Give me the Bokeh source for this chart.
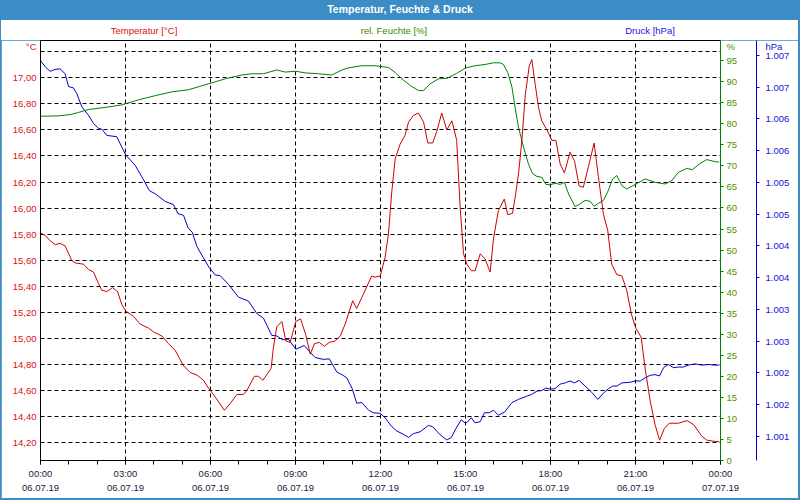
from bokeh.plotting import figure
from bokeh.layouts import column
from bokeh.models import (Range1d, LinearAxis, FixedTicker, CustomJSTickFormatter, Grid, Div)
from bokeh.embed import file_html
from bokeh.resources import INLINE

# ---------------- data ----------------
TEMP_H = [0.00, 0.17, 0.34, 0.52, 0.69, 0.87, 1.10, 1.22, 1.52, 1.69, 1.87, 2.05, 2.16, 2.34,
          2.54, 2.72, 2.87, 3.01, 3.28, 3.52, 3.81, 3.99, 4.28, 4.52, 4.75, 5.05, 5.28, 5.52,
          5.75, 5.93, 6.17, 6.49, 6.69, 6.93, 7.16, 7.28, 7.55, 7.69, 7.85, 8.14, 8.22, 8.34,
          8.52, 8.66, 8.81, 9.01, 9.18, 9.36, 9.52, 9.67, 9.84, 10.02, 10.19, 10.40, 10.58,
          10.75, 11.02, 11.16, 11.46, 11.69, 11.81, 11.99, 12.16, 12.28, 12.40, 12.52, 12.69,
          12.87, 12.99, 13.16, 13.34, 13.52, 13.67, 13.84, 13.99, 14.16, 14.34, 14.52, 14.69,
          14.81, 14.93, 15.05, 15.20, 15.34, 15.52, 15.69, 15.87, 15.99, 16.16, 16.37, 16.49,
          16.66, 16.75, 16.87, 16.99, 17.11, 17.25, 17.34, 17.46, 17.58, 17.69, 17.85, 17.96,
          18.05, 18.19, 18.34, 18.49, 18.69, 18.85, 19.01, 19.16, 19.34, 19.54, 19.69, 19.87,
          20.02, 20.16, 20.34, 20.52, 20.69, 20.85, 21.01, 21.20, 21.34, 21.52, 21.69, 21.85,
          22.02, 22.19, 22.52, 22.81, 23.05, 23.34, 23.52, 23.81, 23.95]
TEMP_V = [15.81, 15.79, 15.75, 15.72, 15.73, 15.71, 15.60, 15.58, 15.57, 15.53, 15.51, 15.42,
          15.37, 15.36, 15.39, 15.36, 15.26, 15.21, 15.17, 15.11, 15.08, 15.05, 15.02, 14.96,
          14.91, 14.79, 14.74, 14.72, 14.68, 14.62, 14.55, 14.45, 14.50, 14.57, 14.57, 14.60,
          14.71, 14.71, 14.68, 14.77, 14.93, 15.09, 15.13, 14.98, 14.97, 15.13, 15.15, 15.03,
          14.88, 14.96, 14.97, 14.94, 14.97, 14.98, 15.02, 15.11, 15.29, 15.23, 15.37, 15.48,
          15.47, 15.48, 15.62, 15.80, 16.13, 16.38, 16.49, 16.56, 16.66, 16.71, 16.73, 16.66,
          16.50, 16.50, 16.59, 16.73, 16.60, 16.67, 16.52, 16.01, 15.65, 15.57, 15.52, 15.52,
          15.65, 15.61, 15.51, 15.77, 15.98, 16.07, 15.95, 15.96, 16.08, 16.26, 16.52, 16.87,
          17.09, 17.14, 16.95, 16.77, 16.67, 16.61, 16.56, 16.52, 16.52, 16.34, 16.27, 16.43,
          16.36, 16.17, 16.16, 16.32, 16.50, 16.24, 15.95, 15.83, 15.57, 15.49, 15.48, 15.37,
          15.19, 15.08, 15.01, 14.77, 14.52, 14.34, 14.22, 14.31, 14.35, 14.35, 14.37, 14.34,
          14.25, 14.22, 14.21, 14.21]

HUM_H = [0.00, 0.64, 1.05, 1.34, 1.69, 2.28, 2.87, 3.46, 4.05, 4.64, 5.22, 5.93, 6.52, 7.11,
         7.46, 7.87, 8.34, 8.64, 9.01, 9.34, 9.81, 10.28, 10.64, 10.87, 11.34, 11.81, 12.28,
         12.52, 12.75, 13.05, 13.34, 13.52, 13.75, 14.05, 14.34, 14.69, 15.01, 15.34, 15.69,
         15.99, 16.22, 16.34, 16.49, 16.64, 16.75, 16.87, 17.05, 17.22, 17.36, 17.52, 17.69,
         17.84, 17.99, 18.16, 18.34, 18.49, 18.64, 18.87, 19.05, 19.22, 19.40, 19.54, 19.69,
         19.87, 20.05, 20.19, 20.34, 20.52, 20.69, 20.99, 21.34, 21.69, 22.05, 22.28, 22.52,
         22.81, 23.01, 23.28, 23.52, 23.81, 23.95]
HUM_V = [81.8, 81.9, 82.2, 82.7, 83.4, 83.9, 84.5, 85.7, 86.7, 87.6, 88.1, 89.5, 90.7, 91.6,
         91.9, 91.9, 92.8, 92.3, 92.5, 92.1, 91.9, 91.6, 92.8, 93.3, 93.8, 93.8, 93.4, 92.2,
         90.7, 89.1, 87.9, 87.9, 89.5, 90.7, 90.8, 92.0, 93.3, 93.8, 94.1, 94.5, 94.5, 94.1,
         92.2, 88.7, 83.9, 79.2, 74.4, 70.5, 68.2, 67.5, 67.3, 65.6, 65.5, 65.9, 65.6, 66.1,
         63.3, 60.3, 61.0, 61.8, 61.6, 60.4, 61.1, 61.8, 64.3, 66.9, 67.7, 65.3, 64.5, 65.6,
         66.9, 66.1, 65.7, 66.5, 68.5, 69.4, 69.1, 70.6, 71.5, 71.0, 70.9]

PRESS_H = [0.00, 0.17, 0.34, 0.52, 0.69, 0.87, 0.99, 1.16, 1.28, 1.46, 1.69, 1.87, 2.05, 2.16,
           2.34, 2.69, 3.01, 3.34, 3.64, 3.84, 4.05, 4.40, 4.69, 4.85, 5.05, 5.20, 5.36, 5.52,
           5.75, 5.95, 6.17, 6.34, 6.64, 6.99, 7.34, 7.64, 7.87, 8.16, 8.34, 8.54, 8.75, 9.01,
           9.31, 9.52, 9.69, 9.99, 10.19, 10.46, 10.64, 10.81, 11.01, 11.16, 11.34, 11.58,
           11.75, 11.99, 12.16, 12.40, 12.58, 12.81, 12.99, 13.16, 13.40, 13.69, 13.84, 14.11,
           14.34, 14.50, 14.66, 14.85, 15.01, 15.20, 15.34, 15.52, 15.67, 15.84, 15.99, 16.16,
           16.38, 16.64, 16.87, 17.16, 17.34, 17.52, 17.69, 17.84, 17.99, 18.16, 18.34, 18.52,
           18.69, 18.85, 19.01, 19.22, 19.46, 19.67, 19.87, 20.05, 20.19, 20.34, 20.52, 20.81,
           20.99, 21.17, 21.34, 21.52, 21.69, 21.85, 21.99, 22.16, 22.34, 22.52, 22.69, 22.87,
           23.11, 23.34, 23.58, 23.81, 23.95]
PRESS_V = [1.00692, 1.00682, 1.00675, 1.00678, 1.00679, 1.00671, 1.00651, 1.00649, 1.00640,
           1.00619, 1.00606, 1.00593, 1.00585, 1.00584, 1.00574, 1.00572, 1.00543, 1.00527,
           1.00504, 1.00487, 1.00482, 1.00470, 1.00465, 1.00451, 1.00448, 1.00429, 1.00421,
           1.00399, 1.00381, 1.00366, 1.00354, 1.00353, 1.00339, 1.00319, 1.00313, 1.00293,
           1.00286, 1.00259, 1.00258, 1.00252, 1.00253, 1.00237, 1.00243, 1.00232, 1.00224,
           1.00221, 1.00222, 1.00201, 1.00197, 1.00192, 1.00174, 1.00152, 1.00153, 1.00141,
           1.00137, 1.00136, 1.00129, 1.00115, 1.00108, 1.00103, 1.00098, 1.00104, 1.00107,
           1.00117, 1.00115, 1.00102, 1.00094, 1.00098, 1.00112, 1.00126, 1.00120, 1.00129,
           1.00121, 1.00123, 1.00137, 1.00137, 1.00141, 1.00133, 1.00138, 1.00153, 1.00158,
           1.00163, 1.00166, 1.00171, 1.00172, 1.00176, 1.00174, 1.00175, 1.00182, 1.00184,
           1.00187, 1.00184, 1.00188, 1.00179, 1.00169, 1.00158, 1.00168, 1.00175, 1.00179,
           1.00179, 1.00184, 1.00185, 1.00187, 1.00187, 1.00192, 1.00196, 1.00197, 1.00195,
           1.00208, 1.00213, 1.00208, 1.00209, 1.00209, 1.00212, 1.00214, 1.00212, 1.00213,
           1.00212, 1.00212]

X_TICKS = [0, 3, 6, 9, 12, 15, 18, 21, 24]
X_TIMES = ["00:00", "03:00", "06:00", "09:00", "12:00", "15:00", "18:00", "21:00", "00:00"]
X_DATES = ["06.07.19"] * 8 + ["07.07.19"]
X_MINOR = list(range(0, 25))

TEMP_TICKS = [14.2, 14.4, 14.6, 14.8, 15.0, 15.2, 15.4, 15.6, 15.8, 16.0, 16.2, 16.4, 16.6, 16.8, 17.0]
TEMP_LABELS = ["14,20", "14,40", "14,60", "14,80", "15,00", "15,20", "15,40", "15,60", "15,80",
               "16,00", "16,20", "16,40", "16,60", "16,80", "17,00"]
TEMP_GRID = TEMP_TICKS + [17.2]

HUM_TICKS = [0, 5, 10, 15, 20, 25, 30, 35, 40, 45, 50, 55, 60, 65, 70, 75, 80, 85, 90, 95]
HUM_LABELS = [str(v) for v in HUM_TICKS]

PRESS_TICKS = [1.0010, 1.0015, 1.0020, 1.0025, 1.0030, 1.0035, 1.0040, 1.0045, 1.0050,
               1.0055, 1.0060, 1.0065, 1.0070]
PRESS_LABELS = ["1.001", "1.002", "1.002", "1.003", "1.003", "1.004", "1.004", "1.005",
                "1.005", "1.006", "1.006", "1.007", "1.007"]

TITLE = "Temperatur, Feuchte &amp; Druck"
SERIES_NAMES = ["Temperatur [°C]", "rel. Feuchte [%]", "Druck [hPa]"]
UNITS = ["°C", "%", "hPa"]

# ---------------- layout / styles ----------------
W, H = 800, 500
HEAD = 40                 # title bar + header row (px)
FIG_W, FIG_H = 797, 458   # figure inside the 1/2 px blue window border
FL, FW, FH = 39, 680, 420
X0, X1 = 0.0, 24.0
T0, T1 = 14.064, 17.286
HU0, HU1 = 0.0, 99.8
P0, P1 = 1.000617, 1.007236
UNIT_DY = 5.3             # unit labels sit this many px below the frame top
GAP = 16                  # extra room between the humidity and pressure axes

FONT = "Liberation Sans"
FS = "9.5px"
RED_LINE, RED_TXT = "#cc0000", "#dd1010"
GREEN_LINE, GREEN_TXT = "#008000", "#4a9400"
BLUE_LINE, BLUE_TXT = "#0000cc", "#1414d8"
BAR = "#3c8dc5"
XTXT = "#1c1c3c"


def unit_val(lo, hi):
    return hi - UNIT_DY / FH * (hi - lo)


LOOKUP = """
let best = 0; let bd = Infinity;
for (let i = 0; i < tv.length; i++) {
  const d = Math.abs(tv[i] - tick);
  if (d < bd) { bd = d; best = i; }
}
"""


def fmt(tick_values, labels):
    return CustomJSTickFormatter(args=dict(tv=tick_values, labs=labels),
                                 code=LOOKUP + "return labs[best];")


p = figure(width=FIG_W, height=FIG_H, output_backend="svg", toolbar_location=None,
           x_range=Range1d(X0, X1), y_range=Range1d(T0, T1),
           x_axis_location=None, y_axis_location=None,
           min_border_left=FL, min_border_right=FIG_W - FL - FW,
           min_border_top=0, min_border_bottom=FIG_H - FH, margin=(0, 2, 2, 1))
p.center = []
p.outline_line_color = None
p.background_fill_color = "white"
p.border_fill_color = "white"
p.extra_y_ranges = {"hum": Range1d(HU0, HU1), "press": Range1d(P0, P1)}

# grids
p.add_layout(Grid(dimension=0, ticker=FixedTicker(ticks=X_TICKS[1:-1]),
                  grid_line_color="black", grid_line_dash="4 3", grid_line_width=1))
p.add_layout(Grid(dimension=1, ticker=FixedTicker(ticks=TEMP_GRID),
                  grid_line_color="black", grid_line_dash="4 3", grid_line_width=1))

# bottom axis
xfmt = CustomJSTickFormatter(args=dict(tv=X_TICKS, times=X_TIMES, dates=X_DATES),
                             code=LOOKUP + "return times[best] + '\\n' + dates[best];")
xaxis = LinearAxis(ticker=FixedTicker(ticks=X_TICKS, minor_ticks=X_MINOR), formatter=xfmt,
                   axis_line_color="black", major_tick_line_color="black",
                   minor_tick_line_color="black", major_tick_out=4, major_tick_in=0,
                   minor_tick_out=4, minor_tick_in=0, major_label_standoff=3,
                   major_label_text_font=FONT, major_label_text_font_size=FS,
                   major_label_text_color=XTXT, major_label_text_line_height=1.33)
p.add_layout(xaxis, "below")

# top frame line
top = LinearAxis(ticker=FixedTicker(ticks=[]), axis_line_color="black",
                 major_tick_out=0, major_tick_in=0, minor_tick_out=0, minor_tick_in=0,
                 major_label_standoff=0)
p.add_layout(top, "above")

# left temperature axis (unit shown as an extra label at the top)
t_ticks = TEMP_TICKS + [unit_val(T0, T1)]
t_labels = TEMP_LABELS + [UNITS[0]]
laxis = LinearAxis(ticker=FixedTicker(ticks=t_ticks), formatter=fmt(t_ticks, t_labels),
                   axis_line_color="black", major_tick_out=0, major_tick_in=0,
                   minor_tick_out=0, minor_tick_in=0, major_label_standoff=4,
                   major_label_text_font=FONT, major_label_text_font_size=FS,
                   major_label_text_color=RED_TXT)
p.add_layout(laxis, "left")

# right humidity axis: tick marks drawn as minor ticks so the unit label has none
h_ticks = HUM_TICKS + [unit_val(HU0, HU1)]
h_labels = HUM_LABELS + [UNITS[1]]
haxis = LinearAxis(y_range_name="hum", ticker=FixedTicker(ticks=h_ticks, minor_ticks=HUM_TICKS),
                   formatter=fmt(h_ticks, h_labels),
                   axis_line_color=GREEN_LINE, minor_tick_line_color=GREEN_LINE,
                   major_tick_line_color=GREEN_LINE,
                   major_tick_out=0, major_tick_in=0, minor_tick_out=3, minor_tick_in=0,
                   major_label_standoff=3, major_label_text_font=FONT,
                   major_label_text_font_size=FS, major_label_text_color=GREEN_TXT)
p.add_layout(haxis, "right")

# invisible spacer axis between the two right axes
spacer = LinearAxis(y_range_name="hum", ticker=FixedTicker(ticks=[HU0 + 0.5 * (HU1 - HU0)]),
                    formatter=CustomJSTickFormatter(code="return '';"),
                    axis_line_color=None, major_tick_line_color="white",
                    major_tick_line_alpha=0.0, major_tick_out=GAP, major_tick_in=0,
                    minor_tick_out=0, minor_tick_in=0, major_label_standoff=0)
p.add_layout(spacer, "right")

# right pressure axis
p_ticks = PRESS_TICKS + [unit_val(P0, P1)]
p_labels = PRESS_LABELS + [UNITS[2]]
paxis = LinearAxis(y_range_name="press", ticker=FixedTicker(ticks=p_ticks, minor_ticks=PRESS_TICKS),
                   formatter=fmt(p_ticks, p_labels),
                   axis_line_color=BLUE_LINE, minor_tick_line_color=BLUE_LINE,
                   major_tick_line_color=BLUE_LINE,
                   major_tick_out=0, major_tick_in=0, minor_tick_out=3, minor_tick_in=0,
                   major_label_standoff=6, major_label_text_font=FONT,
                   major_label_text_font_size=FS, major_label_text_color=BLUE_TXT)
p.add_layout(paxis, "right")

# series
p.line(PRESS_H, PRESS_V, y_range_name="press", line_color=BLUE_LINE, line_width=1)
p.line(HUM_H, HUM_V, y_range_name="hum", line_color=GREEN_LINE, line_width=1)
p.line(TEMP_H, TEMP_V, line_color=RED_LINE, line_width=1)

# title bar + header row
spans = "".join(
    f'<span style="position:absolute;left:{cx}px;top:31px;transform:translate(-50%,-50%);'
    f'white-space:nowrap;color:{col};font-size:{FS};">{name}</span>'
    for name, cx, col in zip(SERIES_NAMES, [144, 394, 650], [RED_TXT, "#2f8a00", BLUE_TXT]))
head_html = (
    f'<div style="position:relative;width:{W}px;height:{HEAD}px;font-family:\'{FONT}\';">'
    f'<div style="position:absolute;left:0;top:0;width:{W}px;height:20px;background:{BAR};'
    f'color:white;font-weight:bold;font-size:10.5px;line-height:18px;text-align:center;">'
    f'{TITLE}</div>'
    f'<div style="position:absolute;left:1px;top:20px;width:{W - 3}px;height:20px;'
    f'background:white;"></div>{spans}</div>')
head = Div(text=head_html, width=W, height=HEAD, margin=(0, 0, 0, 0))

layout = column(head, p, width=W, height=H, spacing=0, margin=(0, 0, 0, 0),
                styles={"background-color": BAR})

open("out.html", "w").write(file_html(layout, INLINE))
